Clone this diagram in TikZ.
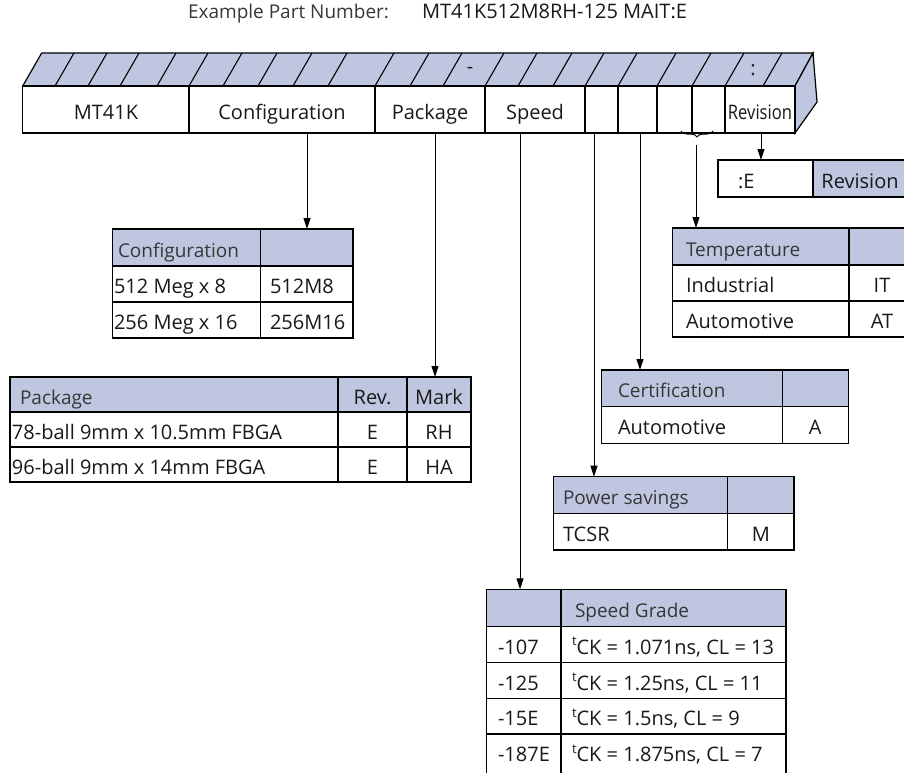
\documentclass[tikz,border=0pt]{standalone}
\usepackage{fontspec}
\setmainfont{Open Sans}
\usetikzlibrary{arrows.meta,decorations.pathreplacing}
\definecolor{hdr}{RGB}{191,199,224}
\definecolor{ink}{RGB}{25,25,25}
\definecolor{lightink}{RGB}{55,55,55}
\tikzset{
  frame/.style={draw=black,line width=1.2pt},
  cellb/.style={frame,inner sep=0pt,outer sep=0pt},
  txt/.style={inner sep=0pt,outer sep=0pt,text=ink,font=\fontsize{20}{24}\selectfont},
  htxt/.style={inner sep=0pt,outer sep=0pt,text=lightink,font=\fontsize{19}{23}\selectfont},
  arr/.style={draw=black,line width=1pt,-{Triangle[length=11pt,width=7pt]}},
  slash/.style={draw=black,line width=1.1pt},
  bracestyle/.style={draw=black,line width=1pt,decorate,decoration={brace,amplitude=6pt}},
}
\newcommand\cellbox[6]{\node[cellb,fill=#6,minimum width={(#4)-(#2)},minimum height={(#5)-(#3)}] (#1) at ({((#2)+(#4))/2},{((#3)+(#5))/2}) {};}
\newcommand\ltxt[5][txt]{\node[#1,anchor=base west] (#2) at (#3,{(#4)+9.5}) {#5};}
\newcommand\ctxt[5][txt]{\node[#1,anchor=base] (#2) at (#3,{(#4)+9.5}) {#5};}
\newcommand\supt{\raisebox{0.42em}{\fontsize{13}{13}\selectfont t}}

\begin{document}
\begin{tikzpicture}[x=1pt,y=-1pt]
\path[use as bounding box,fill=white] (0,0) rectangle (904,772);
\clip (0,0) rectangle (904,772);

% title line
\ltxt[htxt]{lblEx}{188}{9}{Example Part Number:}
\ltxt{lblPN}{422}{9}{MT41K512M8RH-125 MAIT:E}

% top face and right face of the bar
\path[frame,fill=hdr] (22.7,86) -- (41.7,53) -- (813,53) -- (795,86) -- cycle;
\path[frame,fill=hdr] (795,86) -- (813,53) -- (817,102) -- (795,133) -- cycle;
\foreach \sx in {55,88,120,157,189,223,258,293,328,375,410,443,485,518,553,585,618,657,692,725,763}
  \draw[slash] (\sx,86) -- (\sx+19,53);
\ctxt{tDash}{470}{64}{-}
\ctxt{tColon}{753}{66}{:}

% front boxes
\cellbox{bMT}{22.7}{86}{189}{133}{white}
\cellbox{bCfg}{189}{86}{375}{133}{white}
\cellbox{bPkg}{375}{86}{485}{133}{white}
\cellbox{bSpd}{485}{86}{585}{133}{white}
\cellbox{bPwr}{585}{86}{618}{133}{white}
\cellbox{bCert}{618}{86}{657}{133}{white}
\cellbox{bT1}{657}{86}{692}{133}{white}
\cellbox{bT2}{692}{86}{725}{133}{white}
\cellbox{bRev}{725}{86}{795}{133}{white}
\ctxt{tMT}{106}{109.5}{MT41K}
\ctxt{tCfg}{282}{109.5}{Configuration}
\ctxt{tPkg}{430}{109.5}{Package}
\ctxt{tSpd}{535}{109.5}{Speed}
\ctxt{tRev}{760}{109.5}{\scalebox{0.83}[1]{Revision}}

% brace under temperature boxes
\coordinate (brL) at (681,131);
\coordinate (brR) at (713,131);
\draw[bracestyle] (brR) -- (brL);

% Revision table
\cellbox{revA}{718}{160}{813}{197}{white}
\cellbox{revB}{813}{160}{912}{197}{hdr}
\ltxt{tRevA}{738}{178.5}{:E}
\ctxt{tRevB}{860}{178.5}{Revision}

% Temperature table
\cellbox{tmpH1}{672.7}{228}{849}{265}{hdr}
\cellbox{tmpH2}{849}{228}{915}{265}{hdr}
\cellbox{tmpA1}{672.7}{265}{849}{301}{white}
\cellbox{tmpA2}{849}{265}{915}{301}{white}
\cellbox{tmpB1}{672.7}{301}{849}{337}{white}
\cellbox{tmpB2}{849}{301}{915}{337}{white}
\ltxt[htxt]{tTmpH}{686}{246.5}{Temperature}
\ltxt{tTmpA}{686}{283}{Industrial}
\ctxt{tTmpAv}{882}{283}{IT}
\ltxt{tTmpB}{686}{319}{Automotive}
\ctxt{tTmpBv}{882}{319}{AT}

% Configuration table
\cellbox{cfgH1}{112.7}{229}{260.7}{266}{hdr}
\cellbox{cfgH2}{260.7}{229}{353}{266}{hdr}
\cellbox{cfgA1}{112.7}{266}{260.7}{302}{white}
\cellbox{cfgA2}{260.7}{266}{353}{302}{white}
\cellbox{cfgB1}{112.7}{302}{260.7}{338}{white}
\cellbox{cfgB2}{260.7}{302}{353}{338}{white}
\ltxt[htxt]{tCfgH}{118}{247.5}{Configuration}
\ltxt{tCfgA1}{114}{284}{512 Meg x 8}
\ltxt{tCfgA2}{270}{284}{512M8}
\ltxt{tCfgB1}{114}{320}{256 Meg x 16}
\ltxt{tCfgB2}{270}{320}{256M16}

% Package table
\cellbox{pkgH1}{10}{377}{338}{412}{hdr}
\cellbox{pkgH2}{338}{377}{407}{412}{hdr}
\cellbox{pkgH3}{407}{377}{471}{412}{hdr}
\cellbox{pkgA1}{10}{412}{338}{447}{white}
\cellbox{pkgA2}{338}{412}{407}{447}{white}
\cellbox{pkgA3}{407}{412}{471}{447}{white}
\cellbox{pkgB1}{10}{447}{338}{482}{white}
\cellbox{pkgB2}{338}{447}{407}{482}{white}
\cellbox{pkgB3}{407}{447}{471}{482}{white}
\ltxt[htxt]{tPkgH1}{20}{394.5}{Package}
\ctxt{tPkgH2}{372.5}{394.5}{Rev.}
\ctxt{tPkgH3}{439}{394.5}{Mark}
\ltxt{tPkgA1}{12}{429.5}{78-ball 9mm x 10.5mm FBGA}
\ctxt{tPkgA2}{372.5}{429.5}{E}
\ctxt{tPkgA3}{439}{429.5}{RH}
\ltxt{tPkgB1}{12}{464.5}{96-ball 9mm x 14mm FBGA}
\ctxt{tPkgB2}{372.5}{464.5}{E}
\ctxt{tPkgB3}{439}{464.5}{HA}

% Certification table
\cellbox{certH1}{601.7}{370}{782.3}{406.7}{hdr}
\cellbox{certH2}{782.3}{370}{848.3}{406.7}{hdr}
\cellbox{certA1}{601.7}{406.7}{782.3}{443.3}{white}
\cellbox{certA2}{782.3}{406.7}{848.3}{443.3}{white}
\ltxt[htxt]{tCertH}{618}{388.3}{Certification}
\ltxt{tCertA1}{618}{425}{Automotive}
\ctxt{tCertA2}{815.3}{425}{A}

% Power savings table
\cellbox{pwrH1}{553.3}{476.7}{727.7}{513.3}{hdr}
\cellbox{pwrH2}{727.7}{476.7}{794}{513.3}{hdr}
\cellbox{pwrA1}{553.3}{513.3}{727.7}{550}{white}
\cellbox{pwrA2}{727.7}{513.3}{794}{550}{white}
\ltxt[htxt]{tPwrH}{563}{495}{Power savings}
\ltxt{tPwrA1}{563}{531.7}{TCSR}
\ctxt{tPwrA2}{760.8}{531.7}{M}

% Speed grade table
\cellbox{spdH1}{486.7}{589.3}{561}{626.7}{hdr}
\cellbox{spdH2}{561}{589.3}{786}{626.7}{hdr}
\cellbox{spdA1}{486.7}{626.7}{561}{662.7}{white}
\cellbox{spdA2}{561}{626.7}{786}{662.7}{white}
\cellbox{spdB1}{486.7}{662.7}{561}{698.3}{white}
\cellbox{spdB2}{561}{662.7}{786}{698.3}{white}
\cellbox{spdC1}{486.7}{698.3}{561}{734}{white}
\cellbox{spdC2}{561}{698.3}{786}{734}{white}
\cellbox{spdD1}{486.7}{734}{561}{778}{white}
\cellbox{spdD2}{561}{734}{786}{778}{white}
\ltxt[htxt]{tSpdH}{575}{608}{Speed Grade}
\ltxt{tSpdA1}{498}{644.7}{-107}
\ltxt{tSpdA2}{572}{644.7}{\supt CK = 1.071ns, CL = 13}
\ltxt{tSpdB1}{498}{680.5}{-125}
\ltxt{tSpdB2}{572}{680.5}{\supt CK = 1.25ns, CL = 11}
\ltxt{tSpdC1}{498}{716.2}{-15E}
\ltxt{tSpdC2}{572}{716.2}{\supt CK = 1.5ns, CL = 9}
\ltxt{tSpdD1}{498}{752}{-187E}
\ltxt{tSpdD2}{572}{752}{\supt CK = 1.875ns, CL = 7}

% connectors
\coordinate (sCfg) at (307,133);
\coordinate (sPkg) at (435,133);
\coordinate (sSpd) at (520,133);
\coordinate (sPwr) at (594,133);
\coordinate (sCert) at (640,133);
\coordinate (sTmp) at (696,145);
\coordinate (sRev) at (761,133);
\draw[arr] (sCfg) -- (sCfg |- cfgH2.north);
\draw[arr] (sPkg) -- (sPkg |- pkgH3.north);
\draw[arr] (sSpd) -- (sSpd |- spdH1.north);
\draw[arr] (sPwr) -- (sPwr |- pwrH1.north);
\draw[arr] (sCert) -- (sCert |- certH1.north);
\draw[arr] (sTmp) -- (sTmp |- tmpH1.north);
\draw[arr] (sRev) -- (sRev |- revA.north);
\end{tikzpicture}
\end{document}
